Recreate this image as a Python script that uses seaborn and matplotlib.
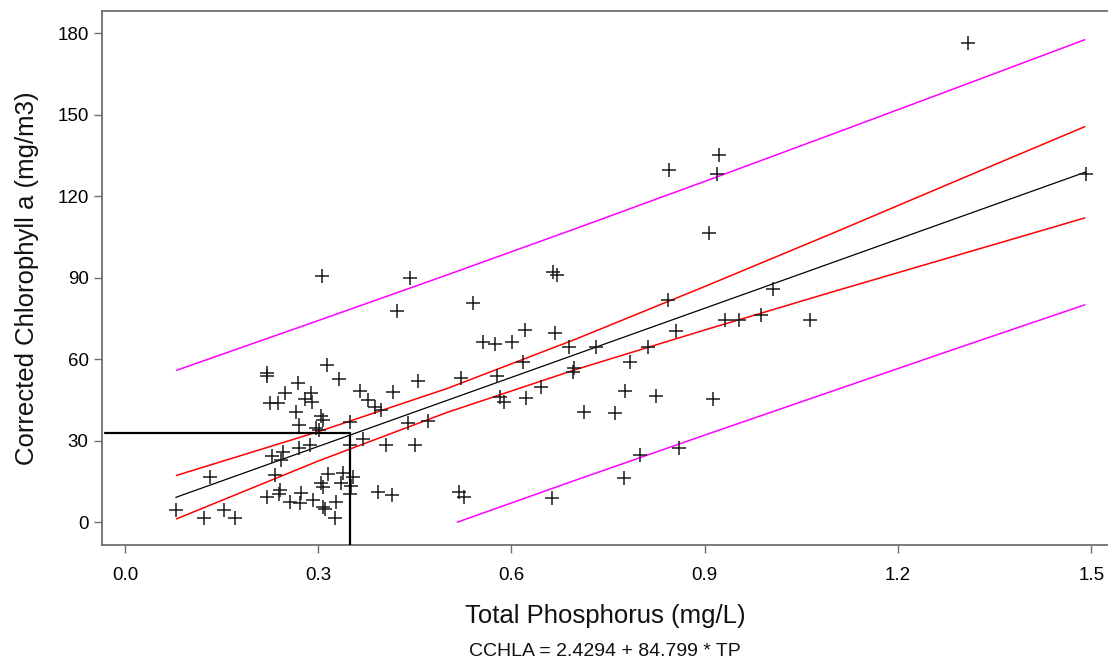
import numpy as np
import pandas as pd
import matplotlib
matplotlib.use("Agg")
import matplotlib.pyplot as plt
from matplotlib.ticker import FormatStrFormatter
import seaborn as sns

# ---- data ----
tp = [0.079, 0.123, 0.132, 0.154, 0.171, 0.220, 0.221, 0.220, 0.225, 0.228,
      0.233, 0.238, 0.239, 0.240, 0.243, 0.246, 0.248, 0.256, 0.266, 0.269,
      0.270, 0.271, 0.272, 0.274, 0.279, 0.287, 0.289, 0.291, 0.292, 0.297,
      0.302, 0.305, 0.305, 0.306, 0.308, 0.308, 0.308, 0.311, 0.313, 0.316,
      0.326, 0.328, 0.333, 0.336, 0.339, 0.349, 0.349, 0.349, 0.351, 0.354,
      0.365, 0.370, 0.377, 0.388, 0.398, 0.393, 0.406, 0.414, 0.416, 0.422,
      0.440, 0.442, 0.450, 0.455, 0.471, 0.519, 0.521, 0.526, 0.540, 0.556,
      0.574, 0.577, 0.582, 0.589, 0.601, 0.618, 0.621, 0.623, 0.646, 0.663,
      0.665, 0.671, 0.667, 0.690, 0.696, 0.697, 0.713, 0.732, 0.760, 0.774,
      0.777, 0.784, 0.799, 0.812, 0.825, 0.843, 0.845, 0.856, 0.860, 0.907,
      0.913, 0.919, 0.922, 0.931, 0.953, 0.988, 1.006, 1.063, 1.309, 1.492]
cchla = [4.5, 1.7, 16.8, 4.5, 1.5, 55.0, 53.8, 9.4, 44.0, 24.4,
         17.4, 44.0, 10.4, 11.9, 22.9, 26.0, 47.6, 7.6, 40.7, 51.2,
         27.2, 35.9, 7.0, 10.7, 45.3, 28.5, 47.5, 44.2, 8.2, 34.6,
         33.8, 38.9, 14.6, 90.8, 37.6, 13.1, 5.7, 5.0, 57.9, 17.8,
         1.5, 7.6, 52.6, 14.4, 18.0, 37.0, 28.5, 10.2, 13.4, 16.8,
         48.2, 30.6, 44.8, 42.5, 41.3, 11.0, 28.5, 10.0, 48.1, 77.8,
         36.4, 89.8, 28.5, 52.1, 37.4, 11.0, 53.2, 9.4, 80.7, 66.5,
         65.6, 53.8, 46.2, 44.4, 66.5, 59.1, 70.6, 45.6, 49.9, 8.8,
         92.2, 91.0, 69.6, 64.5, 55.4, 56.9, 40.5, 64.6, 40.1, 16.2,
         48.4, 59.1, 24.8, 64.6, 46.5, 81.8, 129.5, 70.2, 27.2, 106.3,
         45.3, 128.2, 135.2, 74.5, 74.5, 76.3, 85.8, 74.5, 176.3, 128.2]

intercept = 2.4294
slope = 84.799

band_x = [0.08, 0.30, 0.50, 0.70, 0.90, 1.10, 1.30, 1.49]
conf_upper = [17.2, 33.3, 49.2, 67.4, 86.75, 106.5, 126.6, 145.6]
conf_lower = [1.2, 22.5, 40.4, 56.2, 70.75, 84.9, 98.8, 112.0]
pred_upper = [55.9, 74.2, 91.0, 108.1, 125.45, 143.0, 160.7, 177.6]
pred_lower_x = [0.516, 0.70, 0.90, 1.10, 1.30, 1.49]
pred_lower = [0.0, 15.5, 32.05, 48.4, 64.7, 80.0]

ref_tp = 0.35
ref_chla = 33.0

x_ticks = [0.0, 0.3, 0.6, 0.9, 1.2, 1.5]
y_ticks = [0, 30, 60, 90, 120, 150, 180]

# ---- plotting ----
sns.set_theme(style="white")
plt.rcParams['font.family'] = ['Liberation Sans', 'DejaVu Sans']

fig = plt.figure(figsize=(11.08, 6.66), dpi=100)
ax = fig.add_axes([0.0918, 0.1817, 0.9082, 0.8023])

df = pd.DataFrame({"TP": tp, "CCHLA": cchla})

spine_col = "#6e6e6e"
magenta = "#FF00FF"
red = "#FF0000"

sns.lineplot(x=band_x, y=pred_upper, color=magenta, lw=1.1, ax=ax)
sns.lineplot(x=pred_lower_x, y=pred_lower, color=magenta, lw=1.1, ax=ax)
sns.lineplot(x=band_x, y=conf_upper, color=red, lw=1.1, ax=ax)
sns.lineplot(x=band_x, y=conf_lower, color=red, lw=1.1, ax=ax)

fit_x = np.array([min(tp), max(tp)])
fit_y = intercept + slope * fit_x
sns.lineplot(x=fit_x, y=fit_y, color="black", lw=0.9, ax=ax)

sns.scatterplot(data=df, x="TP", y="CCHLA", marker="+", s=95,
                color="#1a1a1a", linewidth=1.1, ax=ax, zorder=5)

xmin, xmax = -0.036, 1.526
ymin, ymax = -8.4, 188.3
ax.plot([-0.031, ref_tp], [ref_chla, ref_chla], color="black", lw=1.6, zorder=6)
ax.plot([ref_tp, ref_tp], [ymin, ref_chla], color="black", lw=1.6, zorder=6)

ax.set_xlim(xmin, xmax)
ax.set_ylim(ymin, ymax)
ax.set_xticks(x_ticks)
ax.set_yticks(y_ticks)
ax.xaxis.set_major_formatter(FormatStrFormatter('%.1f'))

for side in ["left", "bottom", "top"]:
    ax.spines[side].set_visible(True)
    ax.spines[side].set_color(spine_col)
    ax.spines[side].set_linewidth(1.3)
ax.spines["right"].set_visible(False)

ax.tick_params(axis="both", which="major", direction="out", length=5.5,
               width=1.0, color=spine_col, labelsize=13.5, labelcolor="black",
               bottom=True, left=True, top=False, right=False)
ax.tick_params(axis="x", pad=10)
ax.tick_params(axis="y", pad=4)

ax.set_xlabel("Total Phosphorus (mg/L)", fontsize=18.5, labelpad=15, color="#111111")
ax.set_ylabel("Corrected Chlorophyll a (mg/m3)", fontsize=18.5, labelpad=13, color="#111111")
ax.grid(False)

fig.text(0.5459, 1 - 651.7 / 666, "CCHLA = 2.4294 + 84.799 * TP",
         ha="center", va="center", fontsize=14, color="#111111")

fig.savefig("out.png", dpi=100)
